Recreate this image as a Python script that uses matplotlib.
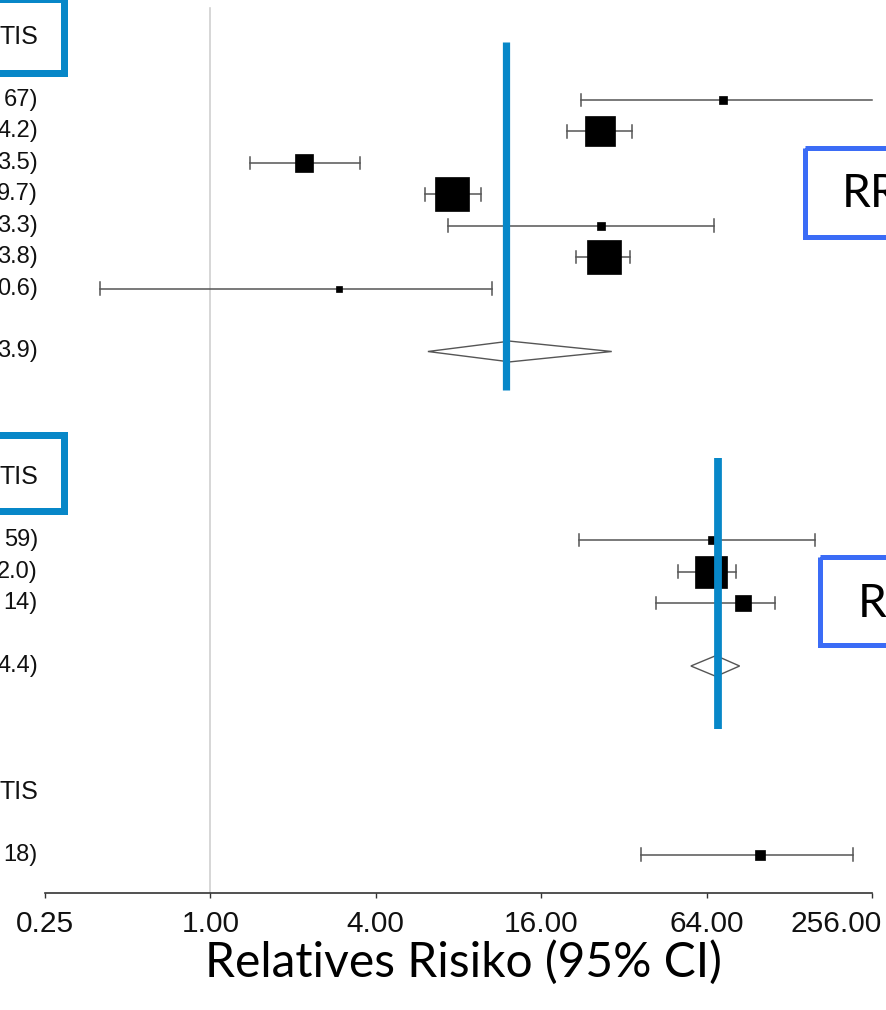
import numpy as np
import matplotlib
matplotlib.use("Agg")
import matplotlib.pyplot as plt
from matplotlib.patches import Rectangle, Polygon
from matplotlib.transforms import ScaledTranslation

# --- data (relative risk, 95% CI, weight) ---
g1_labels = ["67)", "4.2)", "3.5)", "9.7)", "3.3)", "3.8)", "0.6)"]
g1_est = [73.5, 26.2, 2.2, 7.55, 26.4, 27.1, 2.93]
g1_lo = [22.3, 19.8, 1.39, 6.02, 7.31, 21.4, 0.397]
g1_hi = [367.0, 34.2, 3.5, 9.7, 68.3, 33.8, 10.6]
g1_w = [1.7, 23.9, 8.5, 30.8, 1.7, 32.7, 1.0]
g1_pool = [12.3, 6.19, 28.9]
g1_pool_label = "3.9)"

g2_labels = ["59)", "2.0)", "14)"]
g2_est = [67.0, 66.4, 86.8]
g2_lo = [21.9, 50.3, 41.8]
g2_hi = [159.0, 82.0, 114.0]
g2_w = [1.7, 27.3, 7.7]
g2_pool = [69.2, 56.1, 84.4]
g2_pool_label = "4.4)"

g3_labels = ["18)"]
g3_est = [100.0]
g3_lo = [36.9]
g3_hi = [218.0]
g3_w = [2.2]

header = "TIS"
rr_marks = [11.9, 70.5]          # highlighted RR lines
xticks = [0.25, 1, 4, 16, 64, 256]
xticklabels = ["0.25", "1.00", "4.00", "16.00", "64.00", "256.00"]
xlabel = "Relatives Risiko (95% CI)"

# --- layout (pixels) ---
W, H, DPI = 887, 1010, 100
axis_y = 893
row0, row_h = 37, 31.45
px_one, px_oct = 210.4, 82.7
ci_color = "#555555"
blue = "#0787C8"
blue2 = "#3b6cf6"

fig = plt.figure(figsize=(W / DPI, H / DPI), dpi=DPI)
ax = fig.add_axes([0, (H - axis_y) / H, 1, axis_y / H])
ax.set_xscale("log", base=2)
ax.set_xlim(2 ** (-px_one / px_oct), 2 ** ((W - px_one) / px_oct))
ax.set_ylim((axis_y - row0) / row_h, -row0 / row_h)
ax.patch.set_visible(False)

for s in ["top", "left", "right"]:
    ax.spines[s].set_visible(False)
ax.spines["bottom"].set_bounds(xticks[0], xticks[-1])
ax.spines["bottom"].set_color("#333333")
ax.spines["bottom"].set_linewidth(1.2)
ax.set_yticks([])
ax.set_xticks(xticks)
ax.set_xticklabels(xticklabels, fontsize=21.5, family="Liberation Sans", color="#111111")
ax.xaxis.set_minor_locator(matplotlib.ticker.NullLocator())
ax.tick_params(axis="x", direction="out", length=3.6, width=1, color="#333333", pad=9)
last = ax.get_xticklabels()[-1]
last.set_horizontalalignment("right")
last.set_transform(last.get_transform() + ScaledTranslation(10 / DPI, 0, fig.dpi_scale_trans))

# reference line at RR = 1
ax.axvline(1, ymin=0, ymax=(axis_y - 8) / axis_y, color="#d0d0d0", lw=1.2, zorder=0)

xmax = xticks[-1]


def study(y, est, lo, hi, w):
    right = min(hi, xmax)
    ax.plot([lo, right], [y, y], color=ci_color, lw=1.1, zorder=2)
    cap = 0.2
    ax.plot([lo, lo], [y - cap, y + cap], color=ci_color, lw=1.1, zorder=2)
    if hi <= xmax:
        ax.plot([hi, hi], [y - cap, y + cap], color=ci_color, lw=1.1, zorder=2)
    size = 6.12 * np.sqrt(w) * 0.72
    ax.plot(est, y, marker="s", ms=size, color="black", mec="black", mew=0.5, zorder=3)


def pooled(y, est, lo, hi):
    h = 0.33
    ax.add_patch(Polygon([(lo, y), (est, y - h), (hi, y), (est, y + h)], closed=True,
                         facecolor="white", edgecolor=ci_color, lw=1.0, zorder=2))


def label(y, text, size=17):
    ax.text(38 / W, y, text, transform=ax.get_yaxis_transform(), ha="right", va="center",
            fontsize=size, family="Liberation Sans", color="#111111")


# group 1
label(0, header, 18)
for i in range(len(g1_est)):
    study(2 + i, g1_est[i], g1_lo[i], g1_hi[i], g1_w[i])
    label(2 + i, g1_labels[i])
pooled(10, *g1_pool)
label(10, g1_pool_label)

# group 2
label(14, header, 18)
for i in range(len(g2_est)):
    study(16 + i, g2_est[i], g2_lo[i], g2_hi[i], g2_w[i])
    label(16 + i, g2_labels[i])
pooled(20, *g2_pool)
label(20, g2_pool_label)

# group 3
label(24, header, 18)
for i in range(len(g3_est)):
    study(26 + i, g3_est[i], g3_lo[i], g3_hi[i], g3_w[i])
    label(26 + i, g3_labels[i])

# highlighted RR lines
ax.plot([rr_marks[0]] * 2, [0.16, 11.22], color=blue, lw=5.2, solid_capstyle="butt", zorder=4)
ax.plot([rr_marks[1]] * 2, [13.39, 22.0], color=blue, lw=5.6, solid_capstyle="butt", zorder=4)

# --- overlay in pixel coordinates ---
ov = fig.add_axes([0, 0, 1, 1])
ov.set_xlim(0, W)
ov.set_ylim(H, 0)
ov.axis("off")
ov.patch.set_visible(False)

ov.add_patch(Rectangle((-20, -1), 84.5, 74, fill=False, ec=blue, lw=7 * 0.72))
ov.add_patch(Rectangle((-20, 435), 84.5, 76, fill=False, ec=blue, lw=7 * 0.72))
ov.add_patch(Rectangle((805.5, 148), 120, 89, fill=False, ec=blue2, lw=5 * 0.72))
ov.add_patch(Rectangle((820.5, 556.5), 120, 88, fill=False, ec=blue2, lw=5 * 0.72))
ov.text(842, 207, "RR", fontsize=33, family="Lato", ha="left", va="baseline", color="black")
ov.text(858, 617, "R", fontsize=33, family="Lato", ha="left", va="baseline", color="black")
ov.text(463, 977, xlabel, fontsize=34.5, family="Lato", ha="center", va="baseline", color="black")

fig.savefig("out.png", dpi=DPI)
